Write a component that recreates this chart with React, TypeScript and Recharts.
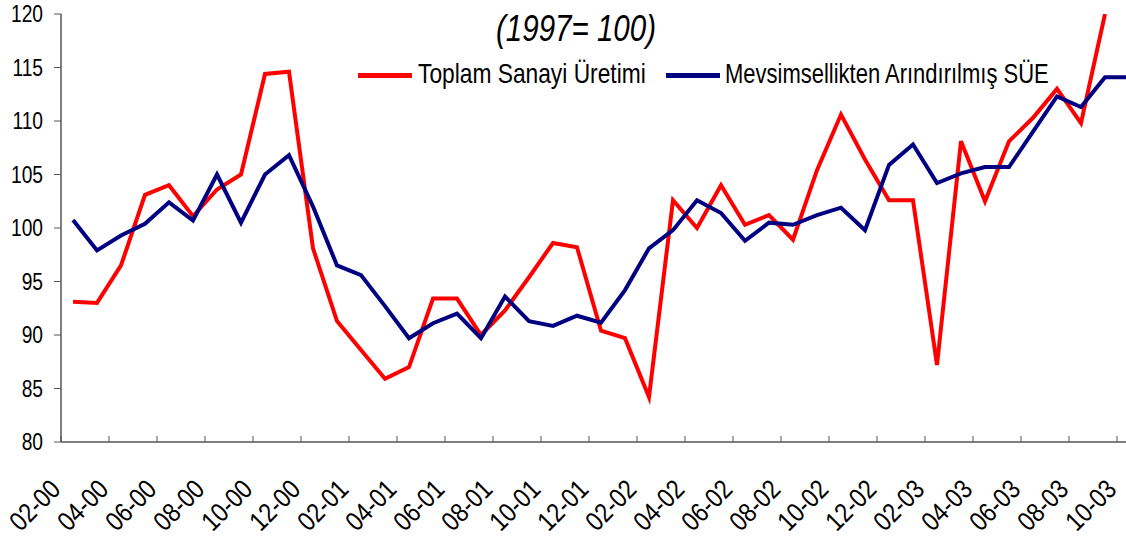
import React from "react";
import { LineChart, Line, XAxis, YAxis } from "recharts";

const months = [
  "02-00", "03-00", "04-00", "05-00", "06-00", "07-00", "08-00", "09-00", "10-00", "11-00", "12-00",
  "01-01", "02-01", "03-01", "04-01", "05-01", "06-01", "07-01", "08-01", "09-01", "10-01", "11-01", "12-01",
  "01-02", "02-02", "03-02", "04-02", "05-02", "06-02", "07-02", "08-02", "09-02", "10-02", "11-02", "12-02",
  "01-03", "02-03", "03-03", "04-03", "05-03", "06-03", "07-03", "08-03", "09-03", "10-03",
];

// Toplam Sanayi Üretimi
const toplam = [
  93.1, 93.0, 96.5, 103.1, 104.0, 101.1, 103.6, 105.0, 114.4, 114.6, 98.1,
  91.3, 88.6, 85.9, 87.0, 93.4, 93.4, 90.0, 92.3, 95.4, 98.6, 98.2, 90.4,
  89.7, 84.2, 102.6, 100.0, 104.0, 100.3, 101.2, 98.9, 105.4, 110.6, 106.4, 102.6,
  102.6, 87.2, 108.1, 102.5, 108.1, 110.3, 113.0, 109.8, 120.0, null,
];

// Mevsimsellikten Arındırılmış SÜE
const mevsim = [
  100.75, 97.9, 99.3, 100.4, 102.4, 100.7, 105.0, 100.5, 105.0, 106.8, 102.0,
  96.5, 95.6, 92.7, 89.7, 91.1, 92.0, 89.7, 93.6, 91.3, 90.85, 91.8, 91.15,
  94.2, 98.1, 99.8, 102.6, 101.4, 98.8, 100.5, 100.3, 101.2, 101.9, 99.8, 105.9,
  107.8, 104.2, 105.1, 105.7, 105.7, 109.0, 112.3, 111.3, 114.1, 114.1,
];

const yTicks = [80, 85, 90, 95, 100, 105, 110, 115, 120];

const data = months.map((m, i) => ({ month: m, toplam: toplam[i], mevsim: mevsim[i] }));

const FONT = '"Liberation Sans", Arial, sans-serif';
const AXIS = "#555555";
const HALF_STEP = 12;

// category labels: rotated, narrowed (the original uses a condensed face)
const XTick = (props: any) => {
  const { x, y, payload } = props;
  const ax = x - 11;
  const ay = y + 49;
  return (
    <g>
      <line x1={x - HALF_STEP} x2={x - HALF_STEP} y1={y} y2={y - 6} stroke={AXIS} strokeWidth={1} />
      <text
        x={0}
        y={0}
        transform={`translate(${ax} ${ay}) rotate(-45) scale(0.85 1)`}
        textAnchor="end"
        fontFamily={FONT}
        fontSize={27}
        fill="#000"
      >
        {payload.value}
      </text>
    </g>
  );
};

const YTick = (props: any) => {
  const { x, y, payload } = props;
  return (
    <text
      x={0}
      y={0}
      transform={`translate(${x} ${y}) scale(0.8 1)`}
      textAnchor="end"
      dominantBaseline="central"
      fontFamily={FONT}
      fontSize={24}
      fill="#000"
    >
      {payload.value}
    </text>
  );
};

const LegendItem = ({
  color,
  label,
  left,
  textLeft,
  sx,
}: {
  color: string;
  label: string;
  left: number;
  textLeft: number;
  sx: number;
}) => (
  <>
    <div style={{ position: "absolute", left, top: 73, width: 54, height: 5, background: color }} />
    <div
      style={{
        position: "absolute",
        left: textLeft,
        top: 56,
        whiteSpace: "nowrap",
        fontFamily: FONT,
        fontSize: 28,
        lineHeight: "36px",
        color: "#000",
        transform: `scaleX(${sx})`,
        transformOrigin: "left center",
      }}
    >
      {label}
    </div>
  </>
);

export default function App() {
  return (
    <div
      style={{
        position: "fixed",
        left: 0,
        top: 0,
        width: 1126,
        height: 538,
        overflow: "hidden",
        background: "#fff",
      }}
    >
      <LineChart width={1141} height={538} data={data} margin={{ top: 14, right: 0, bottom: 0, left: 0 }}>
        <XAxis
          dataKey="month"
          interval={1}
          padding={{ left: 12, right: 12 }}
          tick={<XTick />}
          tickLine={false}
          tickSize={0}
          tickMargin={0}
          height={96}
          axisLine={{ stroke: AXIS, strokeWidth: 1.5 }}
        />
        <YAxis
          domain={[80, 120]}
          ticks={yTicks}
          allowDataOverflow
          width={61}
          tickSize={7}
          tickMargin={11}
          axisLine={{ stroke: AXIS, strokeWidth: 1.5 }}
          tickLine={{ stroke: AXIS }}
          tick={<YTick />}
        />
        <Line
          dataKey="toplam"
          stroke="#ff0000"
          strokeWidth={4}
          dot={false}
          isAnimationActive={false}
          strokeLinejoin="miter"
        />
        <Line
          dataKey="mevsim"
          stroke="#000080"
          strokeWidth={4}
          dot={false}
          isAnimationActive={false}
          strokeLinejoin="miter"
        />
      </LineChart>
      <div
        style={{
          position: "absolute",
          left: 476,
          top: 8,
          width: 200,
          textAlign: "center",
          fontFamily: FONT,
          fontStyle: "italic",
          fontSize: 36,
          color: "#000",
          lineHeight: "42px",
          transform: "scaleX(0.82)",
        }}
      >
        (1997= 100)
      </div>
      <LegendItem color="#ff0000" label="Toplam Sanayi Üretimi" left={358} textLeft={418} sx={0.813} />
      <LegendItem color="#000080" label="Mevsimsellikten Arındırılmış SÜE" left={666} textLeft={725} sx={0.785} />
    </div>
  );
}
